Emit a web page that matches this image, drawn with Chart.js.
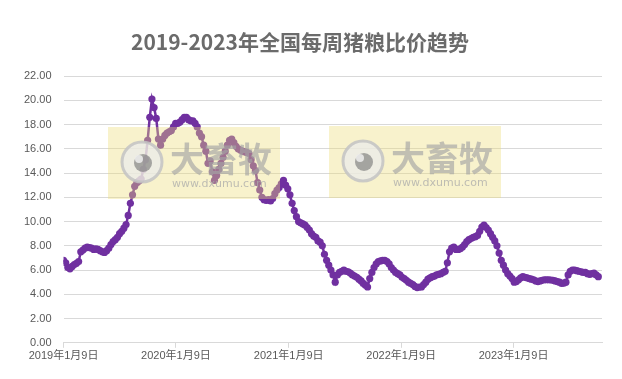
<!DOCTYPE html>
<html>
<head>
<meta charset="utf-8">
<script src="https://cdn.jsdelivr.net/npm/chart.js@4.4.1/dist/chart.umd.min.js"></script>
<style>
html,body{margin:0;padding:0;background:#fff;}
#wrap{width:622px;height:379px;position:relative;}
</style>
</head>
<body>
<div id="wrap"><canvas id="c" width="622" height="379"></canvas></div>
<script>
// ---- data ----
const chartTitle = '2019-2023年全国每周猪粮比价趋势';
const startDate = '2019-01-09';            // first weekly observation
const tickDates = ['2019-01-09','2020-01-09','2021-01-09','2022-01-09','2023-01-09'];
const tickLabels = ['2019年1月9日','2020年1月9日','2021年1月9日','2022年1月9日','2023年1月9日'];
const yTicks = [0,2,4,6,8,10,12,14,16,18,20,22];
// weekly pig-grain price ratio
const ratio = [
 6.8,6.6,6.2,6.1,6.3,6.45,6.55,6.7,7.5,7.65,
 7.8,7.9,7.85,7.8,7.7,7.75,7.7,7.6,7.5,7.45,
 7.6,7.8,8.1,8.35,8.5,8.7,9.0,9.2,9.45,9.75,
 10.5,11.5,12.2,12.9,13.2,13.35,13.5,14.3,15.1,16.7,
 18.6,20.1,19.4,18.5,16.8,16.3,16.8,17.1,17.3,17.4,
 17.5,17.8,18.1,18.1,18.2,18.4,18.6,18.6,18.4,18.3,
 18.3,18.1,17.8,17.3,17.0,16.3,15.8,14.8,15.0,14.1,
 13.4,13.8,14.3,14.8,15.3,15.8,16.3,16.7,16.8,16.5,
 16.2,16.0,15.9,15.8,15.75,15.7,15.6,15.1,14.6,14.2,
 13.2,12.6,12.0,11.8,11.75,11.8,11.7,11.9,12.3,12.6,
 12.8,13.1,13.4,13.0,12.7,12.2,11.5,10.9,10.4,10.0,
 9.9,9.8,9.7,9.5,9.3,9.0,8.8,8.7,8.4,8.3,
 8.0,7.3,6.8,6.4,6.0,5.6,5.0,5.6,5.8,5.9,
 6.0,5.9,5.85,5.75,5.6,5.5,5.4,5.25,5.1,4.9,
 4.75,4.6,5.3,5.8,6.2,6.5,6.7,6.75,6.8,6.8,
 6.7,6.5,6.2,6.0,5.8,5.7,5.6,5.4,5.3,5.15,
 5.0,4.9,4.8,4.65,4.55,4.6,4.6,4.8,5.0,5.25,
 5.35,5.45,5.5,5.6,5.65,5.7,5.8,5.9,6.6,7.5,
 7.8,7.9,7.7,7.7,7.75,7.9,8.1,8.35,8.5,8.6,
 8.7,8.75,8.85,9.2,9.55,9.7,9.5,9.3,9.0,8.7,
 8.4,8.0,7.4,6.8,6.4,6.0,5.7,5.5,5.3,5.0,
 5.05,5.2,5.35,5.45,5.4,5.35,5.3,5.25,5.2,5.1,
 5.05,5.1,5.15,5.2,5.2,5.2,5.18,5.15,5.1,5.05,
 5.0,4.9,4.92,5.0,5.6,5.9,6.0,6.0,5.95,5.9,
 5.85,5.8,5.8,5.7,5.65,5.7,5.75,5.6,5.45
];

// ---- build ----
const DAY = 86400000;
const t0 = Date.parse(startDate);
const dayOf = s => Math.round((Date.parse(s) - t0) / DAY);
const tickDays = tickDates.map(dayOf);
const points = ratio.map((v, i) => ({x: i * 7, y: v}));
const xMax = (ratio.length - 1) * 7 + 12;

const FONT = "'Liberation Sans','Noto Sans CJK SC',sans-serif";

const titlePlugin = {
  id: 'titleText',
  afterDraw(chart) {
    const ctx = chart.ctx;
    ctx.save();
    ctx.fillStyle = '#6b6b6b';
    ctx.font = "bold 21px 'Noto Sans CJK SC'";
    ctx.textAlign = 'center';
    ctx.textBaseline = 'middle';
    ctx.fillText(chartTitle, 300, 42);
    ctx.restore();
  }
};

const watermark = {
  id: 'watermark',
  afterDatasetsDraw(chart) {
    const ctx = chart.ctx;
    const boxes = [[108,127,172,72],[329,126,172,72]];
    boxes.forEach(([x,y,w,h]) => {
      ctx.save();
      ctx.fillStyle = 'rgba(236,222,120,0.38)';
      ctx.fillRect(x, y, w, h);
      const cx = x + 34, cy = y + 35;
      ctx.beginPath();
      ctx.arc(cx, cy, 20, 0, Math.PI*2);
      ctx.fillStyle = 'rgba(235,235,235,0.75)';
      ctx.fill();
      ctx.lineWidth = 3;
      ctx.strokeStyle = 'rgba(195,195,195,0.85)';
      ctx.stroke();
      ctx.beginPath();
      ctx.arc(cx + 1, cy + 1, 9, 0, Math.PI*2);
      ctx.fillStyle = 'rgba(125,125,125,0.65)';
      ctx.fill();
      ctx.beginPath();
      ctx.arc(cx - 3, cy - 3, 4, 0, Math.PI*2);
      ctx.fillStyle = 'rgba(235,235,235,0.9)';
      ctx.fill();
      ctx.fillStyle = 'rgba(165,165,165,0.65)';
      ctx.font = "bold 34px 'Noto Sans CJK SC'";
      ctx.textBaseline = 'middle';
      ctx.textAlign = 'left';
      ctx.fillText('大畜牧', x + 62, y + 32);
      ctx.font = "11px 'DejaVu Sans'";
      ctx.fillStyle = 'rgba(170,170,170,0.75)';
      ctx.fillText('www.dxumu.com', x + 64, y + 57);
      ctx.restore();
    });
  }
};

new Chart(document.getElementById('c'), {
  type: 'line',
  data: {
    datasets: [{
      data: points,
      borderColor: '#7030A0',
      backgroundColor: '#7030A0',
      borderWidth: 2.5,
      pointRadius: 3.6,
      pointBorderWidth: 0,
      pointBackgroundColor: '#7030A0',
      tension: 0,
      fill: false
    }]
  },
  options: {
    responsive: false,
    animation: false,
    devicePixelRatio: 1,
    layout: {padding: {left: 12, right: 20, top: 76, bottom: 14}},
    plugins: {
      legend: {display: false},
      tooltip: {enabled: false},
      title: {display: false}
    },
    scales: {
      x: {
        type: 'linear',
        min: 0,
        max: xMax,
        afterBuildTicks(axis) { axis.ticks = tickDays.map(v => ({value: v})); },
        ticks: {
          autoSkip: false,
          maxRotation: 0,
          color: '#595959',
          font: {family: FONT, size: 11},
          padding: 2,
          callback(v) { const k = tickDays.indexOf(v); return k >= 0 ? tickLabels[k] : ''; }
        },
        grid: {drawOnChartArea: false, drawTicks: true, tickLength: 5, color: '#d9d9d9'},
        border: {display: true, color: '#d9d9d9', width: 1}
      },
      y: {
        min: 0,
        max: 22,
        afterBuildTicks(axis) { axis.ticks = yTicks.map(v => ({value: v})); },
        ticks: {
          color: '#595959',
          font: {family: FONT, size: 11},
          padding: 12,
          callback(v) { return Number(v).toFixed(2); }
        },
        grid: {color: '#d9d9d9', drawTicks: false, lineWidth: 1},
        border: {display: false}
      }
    }
  },
  plugins: [watermark, titlePlugin]
});
</script>
</body>
</html>
